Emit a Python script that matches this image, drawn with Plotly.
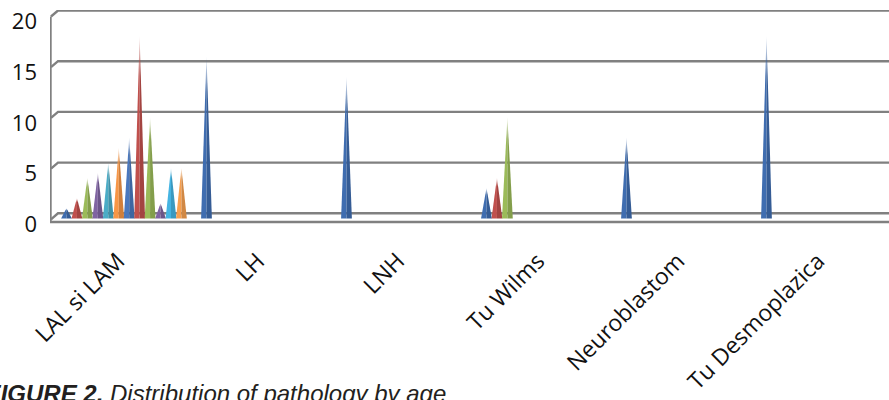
import plotly.graph_objects as go

# Pathology categories and the value axis ticks
categories = ["LAL si LAM", "LH", "LNH", "Tu Wilms", "Neuroblastom", "Tu Desmoplazica"]
y_ticks = [0, 5, 10, 15, 20]

# Case counts per series (one value per category)
serie_1 = [1, 16, 14, 3, 8, 18]
serie_2 = [2, 0, 0, 4, 0, 0]
serie_3 = [4, 0, 0, 10, 0, 0]
serie_4 = [4.5, 0, 0, 0, 0, 0]
serie_5 = [5.5, 0, 0, 0, 0, 0]
serie_6 = [7, 0, 0, 0, 0, 0]
serie_7 = [8, 0, 0, 0, 0, 0]
serie_8 = [18, 0, 0, 0, 0, 0]
serie_9 = [10, 0, 0, 0, 0, 0]
serie_10 = [1.5, 0, 0, 0, 0, 0]
serie_11 = [5, 0, 0, 0, 0, 0]
serie_12 = [5, 0, 0, 0, 0, 0]

series = [serie_1, serie_2, serie_3, serie_4, serie_5, serie_6,
          serie_7, serie_8, serie_9, serie_10, serie_11, serie_12]
colors = ["#3F6DB0", "#C0504D", "#9BBB59", "#8064A2", "#4BACC6", "#F79646",
          "#4A78BE", "#C0504D", "#9BBB59", "#8064A2", "#45B4E2", "#F7A050"]

# Geometry of the pseudo-3D frame (pixels -> axis units)
W, H = 889, 400
ML, MT, MB = 50, 10, 176
PX_X = 140.0          # pixels per category
PX_Y = 10.14          # pixels per unit
XMIN = -0.514
XMAX = XMIN + (W - ML) / PX_X
YMAX = 20.05
YMIN = YMAX - (H - MT - MB) / PX_Y
DEPTH = 0.5           # cones stand half-way into the floor
SPACING = 10.45 / PX_X
HALF_W = 5.4 / PX_X


def xpx(px):
    return XMIN + (px - ML) / PX_X


def shade(hex_color, f):
    r, g, b = (int(hex_color[i:i + 2], 16) for i in (1, 3, 5))
    return "#%02x%02x%02x" % (int(r * f), int(g * f), int(b * f))


def tint(hex_color, alpha):
    r, g, b = (int(hex_color[i:i + 2], 16) for i in (1, 3, 5))
    return "rgba(%d,%d,%d,%.2f)" % (r, g, b, alpha)


fig = go.Figure()

n = len(series)
for s, (vals, col) in enumerate(zip(series, colors)):
    for c, v in enumerate(vals):
        if v <= 0:
            continue
        xc = c + (s - (n - 1) / 2) * SPACING + 2 / PX_X
        base = -DEPTH
        apex = v - DEPTH
        for side, fcol in ((-1, col), (1, shade(col, 0.85))):
            xs = [xc + side * HALF_W, xc, xc, xc + side * HALF_W]
            ys = [base, base, apex, base]
            fig.add_trace(go.Scatter(
                x=xs, y=ys, mode="lines", fill="toself",
                line=dict(width=0, color=fcol),
                fillgradient=dict(
                    type="vertical",
                    colorscale=[[0, fcol], [0.78, fcol], [1, tint(fcol, 0.12)]],
                ),
                hoverinfo="skip", showlegend=False,
                name="Seria %d" % (s + 1),
            ))

# Back-wall gridlines with the short side-wall bend at the left
shapes = []
grid_col = "#808080"
for v in y_ticks:
    shapes.append(dict(
        type="path", xref="x", yref="y",
        path="M %f,%f L %f,%f L %f,%f" % (xpx(51), v - 6 / PX_Y, xpx(58), v, XMAX, v),
        line=dict(color=grid_col, width=2.4), layer="below",
    ))
# Front edge of the floor
shapes.append(dict(type="line", xref="x", yref="y",
                   x0=xpx(50), x1=XMAX, y0=-8.7 / PX_Y, y1=-8.7 / PX_Y,
                   line=dict(color=grid_col, width=2.4), layer="below"))
# Front-left edge of the side wall
shapes.append(dict(type="line", xref="x", yref="y",
                   x0=xpx(50.5), x1=xpx(50.5), y0=20 - 6 / PX_Y, y1=-8.7 / PX_Y,
                   line=dict(color=grid_col, width=2.4), layer="below"))

fig.update_layout(
    width=W, height=H,
    margin=dict(l=ML, r=0, t=MT, b=MB),
    paper_bgcolor="white", plot_bgcolor="white",
    shapes=shapes,
    font=dict(family="Open Sans, Arial, sans-serif", color="#111111"),
    xaxis=dict(
        range=[XMIN, XMAX], tickmode="array",
        tickvals=list(range(len(categories))), ticktext=categories,
        tickangle=-45, tickfont=dict(size=23, color="#111111"),
        showgrid=False, zeroline=False, showline=False, ticks="",
        ticklabelstandoff=18, ticklabelshift=-4,
    ),
    yaxis=dict(
        range=[YMIN, YMAX], tickmode="array", tickvals=y_ticks,
        tickfont=dict(size=22, color="#111111"),
        showgrid=False, zeroline=False, showline=False, ticks="",
        ticklabelshift=11, ticklabelstandoff=12,
    ),
    annotations=[dict(
        xref="paper", yref="paper",
        x=(-16 - ML) / (W - ML), y=-(378 - (H - MB)) / (H - MT - MB),
        xanchor="left", yanchor="top", showarrow=False,
        text="<b><i>FIGURE 2.</i></b><i> Distribution of pathology by age</i>",
        font=dict(family="Liberation Sans, Arial, sans-serif", size=24, color="#231f20"),
    )],
)

fig.write_html("out.html")
